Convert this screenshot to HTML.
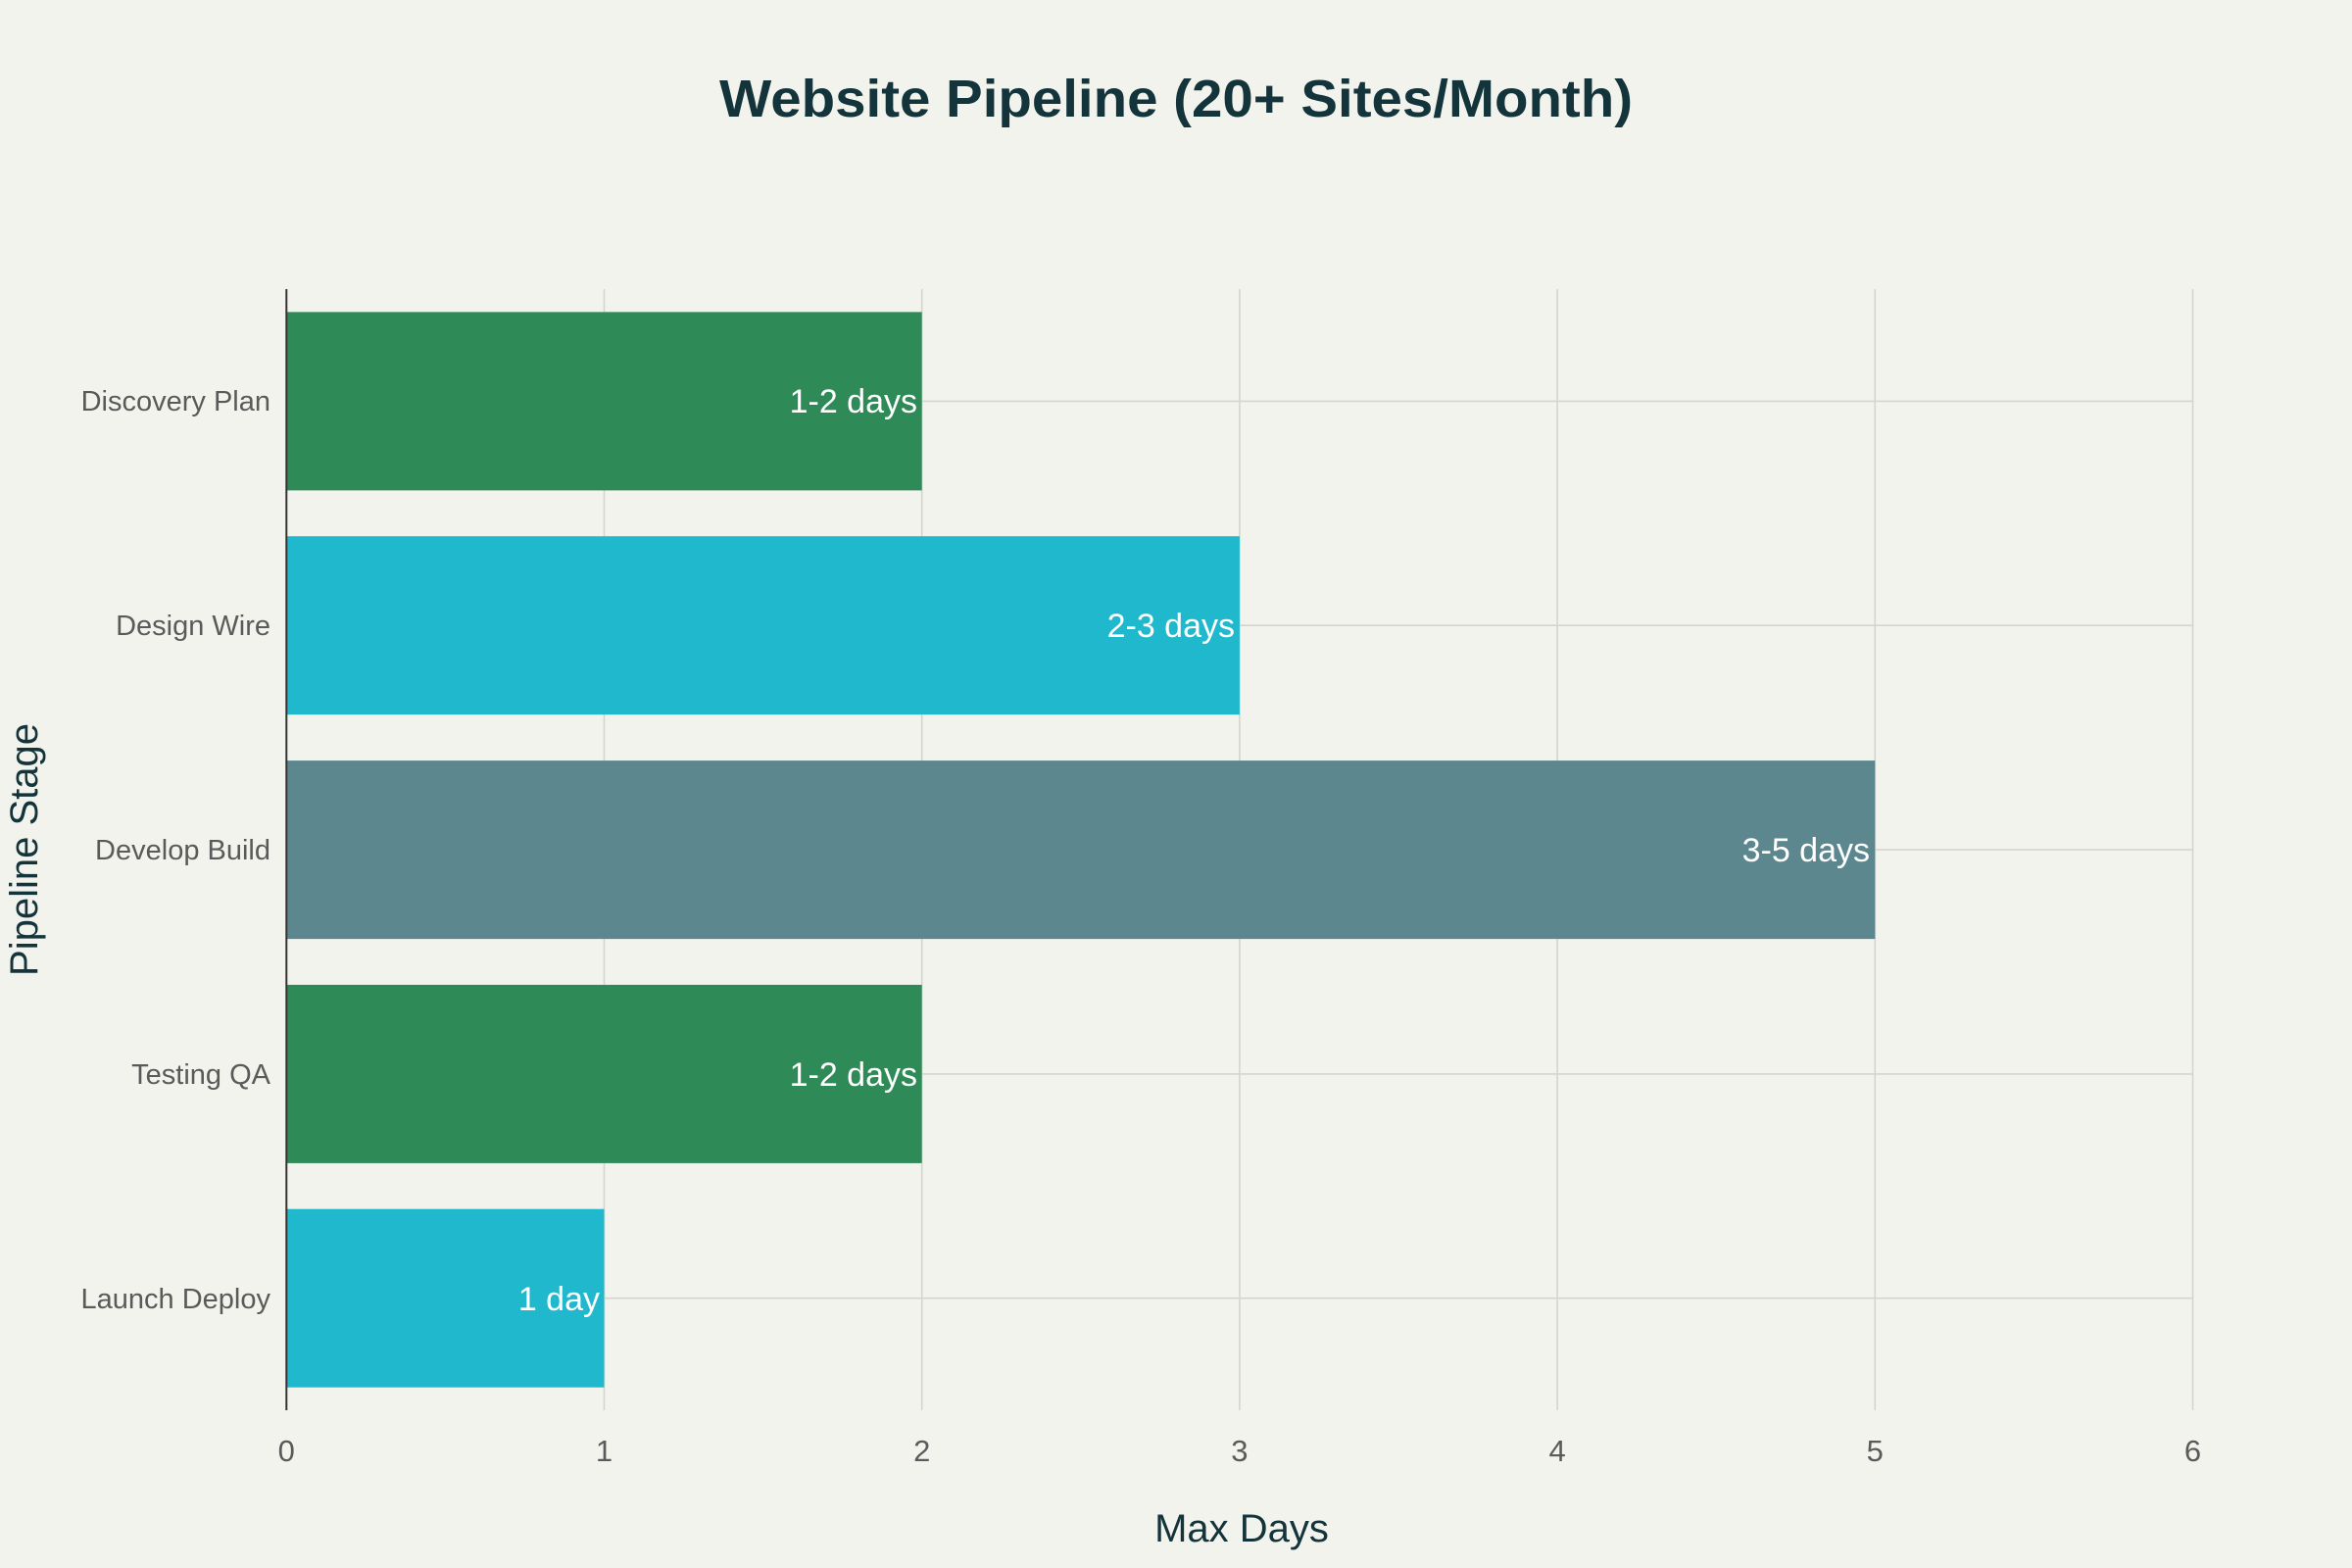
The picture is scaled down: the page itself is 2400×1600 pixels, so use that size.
<!DOCTYPE html>
<html><head><meta charset="utf-8"><style>
html,body{margin:0;padding:0;background:#F3F3EE;}
svg{display:block;font-family:"Liberation Sans",sans-serif;}
</style></head><body>
<svg width="2400" height="1600" viewBox="0 0 2400 1600" xmlns="http://www.w3.org/2000/svg">
<rect width="2400" height="1600" fill="#F3F3EE"/>
<text x="1200" y="119" text-anchor="middle" font-size="54" font-weight="bold" fill="#13343B" textLength="932" lengthAdjust="spacingAndGlyphs">Website Pipeline (20+ Sites/Month)</text>
<g stroke="#D5D5D0" stroke-width="1.6">
<line x1="616.5" y1="295" x2="616.5" y2="1439"/>
<line x1="940.7" y1="295" x2="940.7" y2="1439"/>
<line x1="1264.9" y1="295" x2="1264.9" y2="1439"/>
<line x1="1589.1" y1="295" x2="1589.1" y2="1439"/>
<line x1="1913.3" y1="295" x2="1913.3" y2="1439"/>
<line x1="2237.5" y1="295" x2="2237.5" y2="1439"/>
<line x1="292.3" y1="409.4" x2="2237.5" y2="409.4"/>
<line x1="292.3" y1="638.2" x2="2237.5" y2="638.2"/>
<line x1="292.3" y1="867.1" x2="2237.5" y2="867.1"/>
<line x1="292.3" y1="1095.9" x2="2237.5" y2="1095.9"/>
<line x1="292.3" y1="1324.7" x2="2237.5" y2="1324.7"/>
</g>
<rect x="292.3" y="318.4" width="648.4" height="182" fill="#2E8B57"/>
<rect x="292.3" y="547.2" width="972.6" height="182" fill="#1FB8CD"/>
<rect x="292.3" y="776.1" width="1621" height="182" fill="#5D878F"/>
<rect x="292.3" y="1004.9" width="648.4" height="182" fill="#2E8B57"/>
<rect x="292.3" y="1233.7" width="324.2" height="182" fill="#1FB8CD"/>
<line x1="292.3" y1="295" x2="292.3" y2="1439" stroke="#333" stroke-width="2"/>
<g font-size="34" fill="#fff" text-anchor="end">
<text x="936" y="421">1-2 days</text>
<text x="1260" y="650">2-3 days</text>
<text x="1908" y="879">3-5 days</text>
<text x="936" y="1108">1-2 days</text>
<text x="612" y="1337">1 day</text>
</g>
<g font-size="29" fill="#5a5a5a" text-anchor="end">
<text x="276" y="419">Discovery Plan</text>
<text x="276" y="648">Design Wire</text>
<text x="276" y="877">Develop Build</text>
<text x="276" y="1106">Testing QA</text>
<text x="276" y="1335">Launch Deploy</text>
</g>
<g font-size="31" fill="#5a5a5a" text-anchor="middle">
<text x="292.3" y="1491">0</text>
<text x="616.5" y="1491">1</text>
<text x="940.7" y="1491">2</text>
<text x="1264.9" y="1491">3</text>
<text x="1589.1" y="1491">4</text>
<text x="1913.3" y="1491">5</text>
<text x="2237.5" y="1491">6</text>
</g>
<text x="1267" y="1573" text-anchor="middle" font-size="40" fill="#13343B">Max Days</text>
<text transform="translate(38,867) rotate(-90)" text-anchor="middle" font-size="40" fill="#13343B">Pipeline Stage</text>
</svg>
</body></html>
